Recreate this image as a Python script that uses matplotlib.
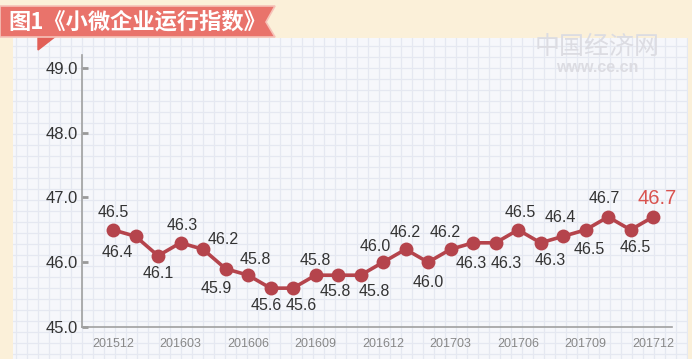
import numpy as np
import matplotlib
matplotlib.use('Agg')
import matplotlib.pyplot as plt
from matplotlib.patches import Polygon

plt.rcParams['font.family'] = ['Liberation Sans', 'Noto Sans CJK SC', 'DejaVu Sans']

# data
months = ['201512', '201601', '201602', '201603', '201604', '201605', '201606',
          '201607', '201608', '201609', '201610', '201611', '201612',
          '201701', '201702', '201703', '201704', '201705', '201706',
          '201707', '201708', '201709', '201710', '201711', '201712']
index_values = [46.5, 46.4, 46.1, 46.3, 46.2, 45.9, 45.8, 45.6, 45.6, 45.8, 45.8, 45.8, 46.0,
                46.2, 46.0, 46.2, 46.3, 46.3, 46.5, 46.3, 46.4, 46.5, 46.7, 46.5, 46.7]
y_ticks = [45.0, 46.0, 47.0, 48.0, 49.0]
title = '图1《小微企业运行指数》'

# label offsets in pixels (dx, dy), dy positive = up
label_offsets = [(0, 17), (-18, -16), (0, -18), (2, 17), (20, 10), (-9, -20), (7, 16),
                 (-4, -17), (8, -17), (0, 15), (-3, -16), (14, -16), (-8, 16),
                 (0, 17), (0, -20), (-5, 17), (-2, -21), (11, -21), (2, 17),
                 (10, -18), (-3, 19), (4, -20), (-4, 18), (5, -18), (4, 18)]

W, H = 692, 359
fig = plt.figure(figsize=(W / 100, H / 100), dpi=100)
fig.patch.set_facecolor('#fbf0d9')

# grid paper panel
bg = fig.add_axes([13 / W, 0, (688 - 13) / W, (359 - 38) / H])
bg.set_facecolor('#f6f7fb')
bg.set_xlim(0, 675)
bg.set_ylim(0, 321)
for gx in np.arange(3, 675, 11):
    bg.axvline(gx, color='#e5e8f1', lw=0.9)
for gy in np.arange(5, 321, 11):
    bg.axhline(gy, color='#e5e8f1', lw=0.9)
for s in bg.spines.values():
    s.set_visible(False)
bg.set_xticks([])
bg.set_yticks([])

# main chart
ax = fig.add_axes([82 / W, 1 - 327 / H, (672 - 82) / W, (327 - 55) / H])
ax.set_facecolor('none')
x = np.arange(len(months))
ax.plot(x, index_values, color='#b5444c', lw=2.6, marker='o', markersize=10,
        markeredgewidth=0, zorder=3)
for i, v in enumerate(index_values):
    dx, dy = label_offsets[i]
    last = i == len(index_values) - 1
    ax.annotate(f'{v:.1f}', (x[i], v), xytext=(dx, dy), textcoords='offset pixels',
                ha='center', va='center', fontsize=14.5 if last else 11.5,
                color='#d9534f' if last else '#333333')

ax.set_xlim(-1.38, 24.84)
ax.set_ylim(45.0, 49.2)
ax.set_yticks(y_ticks)
ax.set_yticklabels([f'{t:.1f}' for t in y_ticks])
ax.set_xticks(x[::3])
ax.set_xticklabels(months[::3])
ax.tick_params(axis='y', direction='in', length=4.5, width=2, color='#999999',
               labelsize=12, labelcolor='#333333', pad=3)
ax.tick_params(axis='x', length=0, labelsize=9, labelcolor='#888888', pad=8)
for side in ['top', 'right']:
    ax.spines[side].set_visible(False)
for side in ['left', 'bottom']:
    ax.spines[side].set_color('#a0a0a0')
    ax.spines[side].set_linewidth(1.2)

# overlay for banner and watermark (pixel coords)
ov = fig.add_axes([0, 0, 1, 1])
ov.set_xlim(0, W)
ov.set_ylim(H, 0)
ov.axis('off')
ov.add_patch(Polygon([(38, 36), (56, 36), (38, 50)], closed=True, color='#e25f57', zorder=1))
ov.add_patch(Polygon([(0, 6), (275, 6), (266, 22), (275, 37), (0, 37)], closed=True,
                     facecolor='#e9736b', edgecolor='#f6c2b8', lw=1.2, zorder=2))
ov.text(8, 22, title, color='white', fontsize=16, fontweight='bold', va='center', ha='left',
        family=['Noto Sans CJK SC', 'DejaVu Sans'], zorder=3)
ov.text(597, 47, '中国经济网', color='#dcdce2', fontsize=18, va='center', ha='center',
        family=['Noto Sans CJK SC', 'DejaVu Sans'])
ov.text(597, 68, 'www.ce.cn', color='#dcdce2', fontsize=11.5, va='center', ha='center',
        fontweight='bold')

fig.savefig('out.png', dpi=100, facecolor=fig.get_facecolor())
